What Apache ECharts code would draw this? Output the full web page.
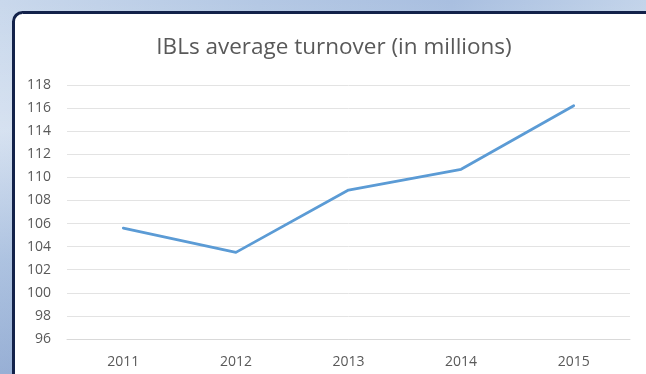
<!DOCTYPE html>
<html>
<head>
<meta charset="utf-8">
<script src="https://cdn.jsdelivr.net/npm/echarts@6/dist/echarts.min.js"></script>
<style>
  html, body { margin: 0; padding: 0; }
  body {
    width: 646px; height: 374px; overflow: hidden;
    background:
      linear-gradient(180deg, rgba(255,255,255,0.0) 0%, rgba(255,255,255,0.25) 35%, rgba(90,130,190,0.25) 70%, rgba(60,100,170,0.35) 100%),
      linear-gradient(90deg, #c9d8ec 0%, #b4c8e4 40%, #a9bfe0 70%, #c3d4ea 100%);
  }
  #chart { width: 646px; height: 374px; }
</style>
</head>
<body>
<div id="chart"></div>
<script>
const years = ['2011', '2012', '2013', '2014', '2015'];
const turnover = [105.6, 103.5, 108.9, 110.7, 116.2];
const yMin = 96;
const yMax = 118;
const yStep = 2;

const chart = echarts.init(document.getElementById('chart'), null, { renderer: 'canvas' });
const textColor = '#595959';
const fontFamily = '"Open Sans", sans-serif';

chart.setOption({
  backgroundColor: 'transparent',
  animation: false,
  graphic: [{
    type: 'rect',
    z: -10,
    shape: { x: 13.5, y: 12.5, width: 660, height: 390, r: 9 },
    style: { fill: '#ffffff', stroke: '#13224a', lineWidth: 3 }
  }],
  title: {
    text: 'IBLs average turnover (in millions)',
    left: 329,
    top: 31,
    textAlign: 'center',
    textStyle: { color: textColor, fontSize: 22.5, fontWeight: 'normal', fontFamily }
  },
  grid: { left: 67, right: 16, top: 85, bottom: 35, containLabel: false },
  xAxis: {
    type: 'category',
    data: years,
    boundaryGap: true,
    axisLine: { show: true, lineStyle: { color: '#d9d9d9', width: 1 } },
    axisTick: { show: false },
    axisLabel: { color: textColor, fontSize: 14, fontFamily, margin: 16 }
  },
  yAxis: {
    type: 'value',
    min: yMin,
    max: yMax,
    interval: yStep,
    axisLine: { show: false },
    axisTick: { show: false },
    axisLabel: { color: textColor, fontSize: 14, fontFamily, margin: 16 },
    splitLine: { lineStyle: { color: '#e3e3e3', width: 1 } }
  },
  series: [{
    type: 'line',
    data: turnover,
    symbol: 'none',
    lineStyle: { color: '#5b9bd5', width: 2.75, cap: 'round', join: 'round' }
  }]
});
</script>
</body>
</html>
